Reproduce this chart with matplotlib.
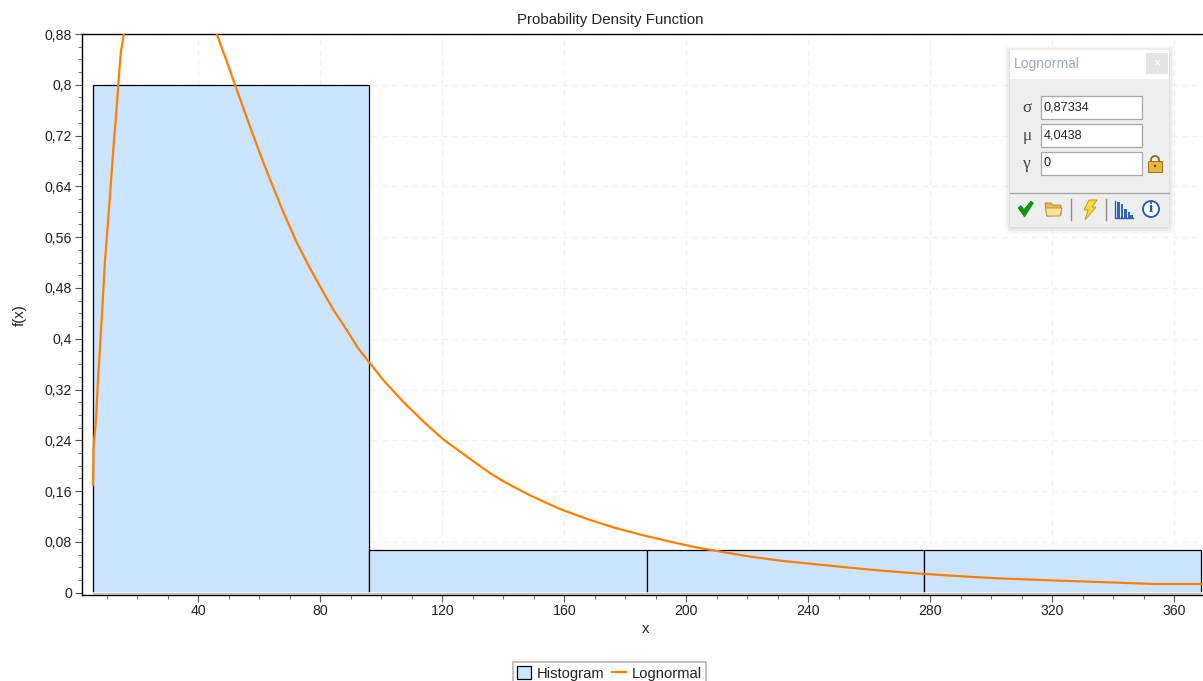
import numpy as np
import matplotlib
matplotlib.use("Agg")
import matplotlib.pyplot as plt
from matplotlib.patches import Rectangle, Polygon, Circle, FancyBboxPatch

plt.rcParams["font.family"] = ["Liberation Sans", "DejaVu Sans"]

# histogram
bin_edges = [5.4, 96, 187, 278, 369]
bin_heights = [0.8, 0.068, 0.068, 0.068]

# fitted curve (the part above 0.88 is clipped anyway)
curve_x = [5.4, 5.6, 6.4, 7.0, 7.7, 8.5, 9.3, 10.2, 11.2, 12.1, 12.95, 13.7, 14.5, 15.5,
           18, 22, 27, 33, 40, 46, 49.2, 52, 55.2, 58, 60.7, 63.4, 67.8, 72.2, 76.6, 80.4,
           84.2, 88.6, 92.4, 96.2, 100.6, 107.1, 113.7, 120.3, 128, 135.6, 140, 148.7, 158.5,
           167.3, 176, 185.8, 194.6, 203.3, 211, 220.8, 231.7, 242.7, 253.6, 264.5, 275.5,
           290.7, 303, 320, 335.6, 354, 369]
curve_y = [0.17, 0.23, 0.272, 0.33, 0.387, 0.45, 0.52, 0.576, 0.64, 0.70, 0.75, 0.80, 0.85, 0.88,
           0.98, 1.08, 1.12, 1.08, 0.98, 0.88, 0.838, 0.80, 0.757, 0.72, 0.685, 0.652, 0.60, 0.552, 0.511, 0.478,
           0.446, 0.414, 0.385, 0.3617, 0.335, 0.301, 0.27, 0.2415, 0.2146, 0.1885, 0.1755, 0.1535, 0.132,
           0.1165, 0.103, 0.0905, 0.0805, 0.0713, 0.065, 0.057, 0.050, 0.0447, 0.0394, 0.0346, 0.0305,
           0.0257, 0.0225, 0.0194, 0.0168, 0.0137, 0.0137]

x_ticks = [40, 80, 120, 160, 200, 240, 280, 320, 360]
y_ticks = [0, 0.08, 0.16, 0.24, 0.32, 0.4, 0.48, 0.56, 0.64, 0.72, 0.8, 0.88]
y_labels = ["0", "0,08", "0,16", "0,24", "0,32", "0,4", "0,48", "0,56", "0,64", "0,72", "0,8", "0,88"]

# parameter box
param_names = ["\u03c3", "\u03bc", "\u03b3"]
param_values = ["0,87334", "4,0438", "0"]

W, H = 1203, 681
text_col = "#222222"
orange = "#ff8000"

fig = plt.figure(figsize=(W / 100, H / 100), dpi=100)
ax = fig.add_axes([81.5 / W, 1 - 595 / H, (W - 81.5) / W, (595 - 34) / H])

bars = ax.bar(bin_edges[:-1], bin_heights, width=np.diff(bin_edges), align="edge",
              facecolor="#cce5ff", edgecolor="black", linewidth=0.9, zorder=2, label="Histogram")
curve, = ax.plot(curve_x, curve_y, color=orange, linewidth=1.6, zorder=3, label="Lognormal")
# the bars have no visible bottom edge in the original
ax.axhline(0, color="white", linewidth=1.1, zorder=2.5)

ax.set_xlim(1.64, 369.5)
ax.set_ylim(-0.0036, 0.88)
ax.set_xticks(x_ticks)
ax.set_xticks(np.arange(10, 370, 10), minor=True)
ax.set_yticks(y_ticks)
ax.set_yticklabels(y_labels)
ax.set_yticks(np.arange(0, 0.88, 0.02), minor=True)
ax.tick_params(axis="both", which="major", length=5, width=0.8, labelsize=10.2, labelcolor=text_col, color="#555555", pad=2)
ax.tick_params(axis="x", which="major", pad=1.5)
ax.tick_params(axis="both", which="minor", length=3, width=0.8, color="#777777")
ax.grid(True, which="major", color="#f1f1f1", linestyle=(0, (4, 4)), linewidth=0.9, zorder=0)
ax.set_axisbelow(True)
ax.spines["right"].set_visible(False)
for s in ["left", "bottom", "top"]:
    ax.spines[s].set_linewidth(1.0)

fig.text(610.5 / W, 1 - 20 / H, "Probability Density Function", ha="center", va="center", fontsize=10.8, color=text_col)
fig.text(645.5 / W, 1 - 629 / H, "x", ha="center", va="center", fontsize=10.8, color=text_col)
fig.text(20 / W, 1 - 315 / H, "f(x)", ha="center", va="center", rotation=90, fontsize=10.8, color=text_col)

leg = ax.legend(handles=[bars, curve], loc="upper center", bbox_to_anchor=(609.5 / W, 1 - 661.5 / H),
                bbox_transform=fig.transFigure, ncol=2, frameon=True, fancybox=False, edgecolor="#b5b5b5",
                framealpha=1, fontsize=10.6, borderpad=0.3, handlelength=0.95, handleheight=1.0,
                handletextpad=0.4, columnspacing=0.5, borderaxespad=0)
for t in leg.get_texts():
    t.set_color(text_col)
leg.get_frame().set_linewidth(1.2)

# floating parameter window, drawn in pixel coordinates on top of the chart
ov = fig.add_axes([0, 0, 1, 1], zorder=10)
ov.set_xlim(0, W)
ov.set_ylim(H, 0)
ov.axis("off")

for i, a in zip([6, 4, 2], [0.03, 0.04, 0.05]):
    ov.add_patch(FancyBboxPatch((1010 - i + 1, 50 - i + 2), 159 + 2 * i - 2, 177 + 2 * i - 2,
                                boxstyle="round,pad=0,rounding_size=3", fc="black", ec="none", alpha=a))
ov.add_patch(Rectangle((1010, 50), 159, 177, fc="#eeeeee", ec="none"))
ov.add_patch(Rectangle((1010, 50), 159, 29, fc="white", ec="none"))
ov.add_patch(Rectangle((1146, 53), 22, 21, fc="#e4e4e4", ec="none"))
ov.text(1157, 63.5, "\u00d7", ha="center", va="center", fontsize=9, color="white")
ov.text(1014, 64, "Lognormal", ha="left", va="center", fontsize=10, color="#a3abb8")

box_tops = [96, 123.5, 152]
for name, val, top in zip(param_names, param_values, box_tops):
    ov.add_patch(Rectangle((1040.5, top), 101, 23, fc="white", ec="#a8a8a8", lw=0.9))
    ov.text(1044, top + 11.5, val, ha="left", va="center", fontsize=9.2, color=text_col)
    ov.text(1027, top + 12, name, ha="center", va="center", fontsize=12.5, color="#444444",
            family=["Liberation Serif", "DejaVu Serif"])

ov.plot([1010, 1169], [193, 193], color="#a8a8a8", lw=1.0)
for sx in [1071, 1106]:
    ov.plot([sx, sx], [199, 220], color="#8a8a8a", lw=1.0)

# check mark
ov.add_patch(Polygon([[1018, 208], [1021, 205.5], [1024, 209.5], [1031, 201], [1033.5, 203], [1024.5, 217]],
                     fc="#0a9a12", ec="#067a0c", lw=0.4))
# folder
ov.add_patch(Polygon([[1045, 203], [1051, 203], [1053, 205], [1061, 205], [1061, 215], [1047, 216]],
                     fc="#e8b84a", ec="#b98a2a", lw=0.7))
ov.add_patch(Polygon([[1047, 216], [1045.5, 208], [1062, 208], [1060, 216]], fc="#fbe39a", ec="#c09434", lw=0.7))
# lightning
ov.add_patch(Polygon([[1089, 200], [1097, 200], [1092, 207], [1096, 207], [1085, 220], [1088, 210], [1084, 210]],
                     fc="#f7d93a", ec="#c29a20", lw=0.7))
# histogram icon
ov.plot([1115, 1115, 1133], [201, 218, 218], color="#2a5db0", lw=1.0)
for bx, bh in zip([1117, 1120.5, 1124, 1127.5, 1130], [16, 14, 9, 6, 3]):
    ov.add_patch(Rectangle((bx, 217.5 - bh), 2.5, bh, fc="#2f66c0", ec="none"))
# info icon
ov.add_patch(Circle((1151, 209), 8, fc="white", ec="#1f55b5", lw=1.3))
ov.text(1151, 209, "i", ha="center", va="center", fontsize=11, fontweight="bold", color="#1f55b5",
        family=["Liberation Serif", "DejaVu Serif"])
# padlock
ov.add_patch(Circle((1155, 160), 4, fc="none", ec="#8a6a20", lw=1.3))
ov.add_patch(Rectangle((1148, 161), 14, 10.5, fc="#e6b63e", ec="#9a7420", lw=0.7))
ov.add_patch(Circle((1155, 166), 1.2, fc="#5a4210", ec="none"))

fig.savefig("out.png", dpi=100)
